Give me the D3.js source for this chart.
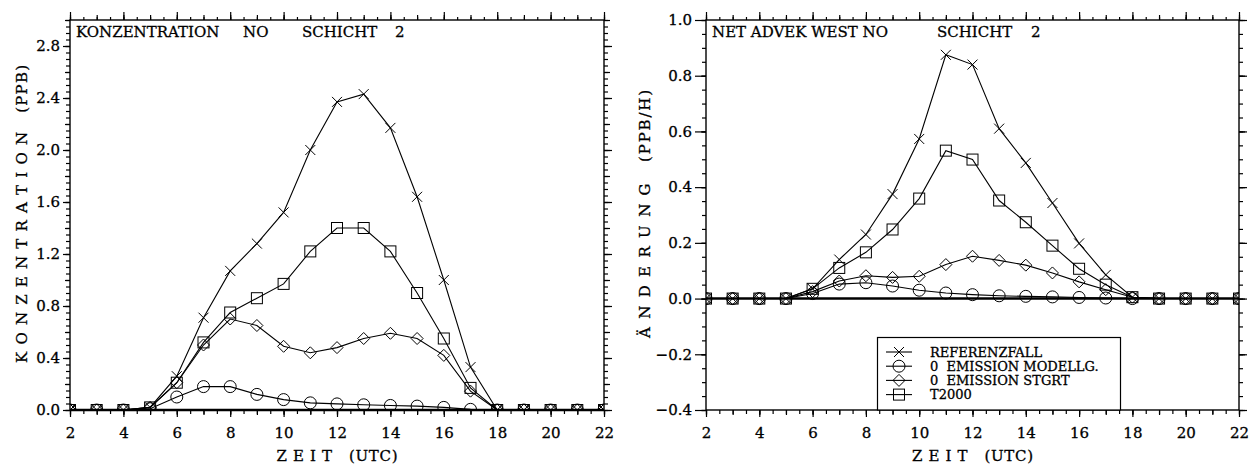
<!DOCTYPE html>
<html>
<head>
<meta charset="utf-8">
<script src="https://cdn.jsdelivr.net/npm/d3@7"></script>
<style>
  body { margin: 0; background: #fff; }
  text { font-family: "DejaVu Serif", "Liberation Serif", serif; fill: #000; stroke: #000; stroke-width: 0.3px; }
</style>
</head>
<body>
<div id="my_dataviz"></div>
<script>
// Hours (UTC) on the x axis
var hours = [2, 3, 4, 5, 6, 7, 8, 9, 10, 11, 12, 13, 14, 15, 16, 17, 18, 19, 20, 21, 22];
var xTickLabels = [2, 4, 6, 8, 10, 12, 14, 16, 18, 20, 22];

// Series names (legend)
var seriesNames = ["REFERENZFALL", "0  EMISSION MODELLG.", "0  EMISSION STGRT", "T2000"];
var seriesSymbols = ["cross", "circle", "diamond", "square"];

// Left panel: Konzentration NO (PPB)
var konzRef     = [0, 0, 0, 0.02, 0.26, 0.71, 1.07, 1.28, 1.52, 2.0, 2.37, 2.43, 2.17, 1.64, 1.0, 0.33, 0, 0, 0, 0, 0];
var konzEmisMod = [0, 0, 0, 0.01, 0.10, 0.18, 0.18, 0.12, 0.08, 0.055, 0.047, 0.04, 0.035, 0.03, 0.02, 0.005, 0, 0, 0, 0, 0];
var konzEmisStg = [0, 0, 0, 0.02, 0.21, 0.50, 0.70, 0.65, 0.49, 0.44, 0.48, 0.55, 0.59, 0.55, 0.42, 0.145, 0, 0, 0, 0, 0];
var konzT2000   = [0, 0, 0, 0.02, 0.21, 0.52, 0.75, 0.86, 0.97, 1.22, 1.40, 1.40, 1.22, 0.90, 0.55, 0.17, 0, 0, 0, 0, 0];
var konzTicks = [0.0, 0.4, 0.8, 1.2, 1.6, 2.0, 2.4, 2.8];

// Right panel: Net Advektion West NO (PPB/H)
var advRef     = [0, 0, 0, 0, 0.035, 0.14, 0.23, 0.375, 0.573, 0.875, 0.84, 0.61, 0.487, 0.343, 0.198, 0.085, 0.005, 0, 0, 0, 0];
var advEmisMod = [0, 0, 0, 0, 0.018, 0.052, 0.057, 0.045, 0.03, 0.02, 0.014, 0.01, 0.008, 0.006, 0.004, 0.002, 0, 0, 0, 0, 0];
var advEmisStg = [0, 0, 0, 0, 0.025, 0.063, 0.082, 0.076, 0.08, 0.122, 0.152, 0.137, 0.12, 0.092, 0.06, 0.032, 0.005, 0, 0, 0, 0];
var advT2000   = [0, 0, 0, 0, 0.035, 0.11, 0.166, 0.248, 0.359, 0.531, 0.499, 0.352, 0.274, 0.19, 0.107, 0.05, 0.005, 0, 0, 0, 0];
var advTicks = [-0.4, -0.2, 0.0, 0.2, 0.4, 0.6, 0.8, 1.0];

var svg = d3.select("#my_dataviz")
  .append("svg")
    .attr("width", 1250)
    .attr("height", 464);

// range helper for minor ticks (avoid float drift)
function steps(lo, hi, step) {
  var out = [];
  var n = Math.round((hi - lo) / step);
  for (var i = 0; i <= n; i++) out.push(+(lo + i * step).toFixed(4));
  return out;
}

// Draw one marker symbol at (0,0)
function drawSymbol(g, type) {
  if (type === "cross") {
    g.append("path").attr("d", "M-5,-5L5,5M-5,5L5,-5");
  } else if (type === "circle") {
    g.append("circle").attr("r", 6);
  } else if (type === "diamond") {
    g.append("path").attr("d", "M0,-6L6,0L0,6L-6,0Z");
  } else {
    g.append("rect").attr("x", -5.5).attr("y", -5.5).attr("width", 11).attr("height", 11);
  }
  g.selectAll("path,circle,rect")
    .attr("fill", "none")
    .attr("stroke", "#000")
    .attr("stroke-width", 1);
}

function drawPanel(cfg) {
  var x = d3.scaleLinear().domain([2, 22]).range([cfg.left, cfg.right]);
  var y = d3.scaleLinear().domain(cfg.yDomain).range([cfg.bottom, cfg.top]);
  var g = svg.append("g");

  // one level of ticks on one side
  function ticks(axisFn, values, size, translate, labels, pad) {
    var ax = axisFn.tickValues(values).tickSize(size).tickSizeOuter(0);
    if (labels) ax.tickFormat(labels).tickPadding(pad); else ax.tickFormat("");
    var a = g.append("g").attr("transform", translate).call(ax);
    a.select(".domain").remove();
    a.selectAll("line").attr("stroke", "#000").attr("stroke-width", 1.2);
    a.selectAll("text").style("font-size", "15px").style("font-family", "DejaVu Serif").attr("fill", "#000");
    return a;
  }

  var tb = "translate(0," + cfg.bottom + ")";
  var tt = "translate(0," + cfg.top + ")";
  var tl = "translate(" + cfg.left + ",0)";
  var tr = "translate(" + cfg.right + ",0)";

  // x axis, bottom and top
  ticks(d3.axisBottom(x), steps(2, 22, 0.5), 4, tb);
  ticks(d3.axisBottom(x), hours, 5, tb);
  ticks(d3.axisBottom(x), xTickLabels, 7, tb, d3.format("d"), 10);
  ticks(d3.axisTop(x), steps(2, 22, 0.5), 3, tt);
  ticks(d3.axisTop(x), hours, 5, tt);
  ticks(d3.axisTop(x), xTickLabels, 8, tt);

  // y axis, left and right
  var ylo = cfg.yDomain[0], yhi = cfg.yDomain[1];
  ticks(d3.axisLeft(y), steps(ylo, yhi, 0.05), 4, tl);
  ticks(d3.axisLeft(y), cfg.yMid, 5, tl);
  ticks(d3.axisLeft(y), cfg.yTicks, cfg.yMajorLen, tl, d3.format(".1f"), cfg.yPad);
  ticks(d3.axisRight(y), steps(ylo, yhi, 0.05), 4, tr);
  ticks(d3.axisRight(y), cfg.yMid, 6, tr);
  ticks(d3.axisRight(y), cfg.yTicks, 8, tr);

  // frame
  g.append("rect")
    .attr("x", cfg.left).attr("y", cfg.top)
    .attr("width", cfg.right - cfg.left).attr("height", cfg.bottom - cfg.top)
    .attr("fill", "none").attr("stroke", "#000").attr("stroke-width", 1.4);

  // zero line
  g.append("line")
    .attr("x1", cfg.left).attr("x2", cfg.right)
    .attr("y1", y(0)).attr("y2", y(0))
    .attr("stroke", "#000").attr("stroke-width", 2.4);

  // clip for data
  g.append("clipPath").attr("id", cfg.id + "-clip")
    .append("rect")
      .attr("x", cfg.left).attr("y", cfg.top)
      .attr("width", cfg.right - cfg.left).attr("height", cfg.bottom - cfg.top);

  var plot = g.append("g").attr("clip-path", "url(#" + cfg.id + "-clip)");
  var line = d3.line().x(function(d, i) { return x(hours[i]); }).y(function(d) { return y(d); });

  cfg.series.forEach(function(values, si) {
    plot.append("path")
      .datum(values)
      .attr("d", line)
      .attr("fill", "none")
      .attr("stroke", "#000")
      .attr("stroke-width", 1.1);
    plot.append("g").selectAll("g")
      .data(values)
      .join("g")
        .attr("transform", function(d, i) { return "translate(" + x(hours[i]) + "," + y(d) + ")"; })
        .each(function() { drawSymbol(d3.select(this), seriesSymbols[si]); });
  });

  // title pieces
  cfg.title.forEach(function(t) {
    g.append("text")
      .attr("x", t[1]).attr("y", cfg.top + 17)
      .style("font-size", "15px")
      .text(t[0]);
  });

  // axis labels
  g.append("text")
    .attr("transform", "translate(" + cfg.yLabelX + "," + cfg.yLabelY + ") rotate(-90)")
    .attr("text-anchor", "middle")
    .attr("textLength", cfg.yLabelLen)
    .attr("lengthAdjust", "spacing")
    .style("font-size", "15px")
    .style("white-space", "pre")
    .text(cfg.yLabel);

  g.append("text")
    .attr("x", (cfg.left + cfg.right) / 2)
    .attr("y", 461)
    .attr("text-anchor", "middle")
    .attr("textLength", 121)
    .attr("lengthAdjust", "spacing")
    .style("font-size", "15px")
    .style("white-space", "pre")
    .text("Z E I T   (UTC)");

  return {x: x, y: y, g: g};
}

drawPanel({
  id: "konz",
  left: 70, right: 604, top: 20, bottom: 410,
  yDomain: [0, 3.0],
  yTicks: konzTicks,
  yMid: steps(0, 3.0, 0.2),
  yMajorLen: 7, yPad: 3,
  series: [konzRef, konzEmisMod, konzEmisStg, konzT2000],
  title: [["KONZENTRATION", 76], ["NO", 243], ["SCHICHT", 302], ["2", 395]],
  yLabel: "K O N Z E N T R A T I O N   (PPB)",
  yLabelX: 27, yLabelY: 214, yLabelLen: 298
});

var right = drawPanel({
  id: "adv",
  left: 706, right: 1239, top: 20, bottom: 410,
  yDomain: [-0.4, 1.0],
  yTicks: advTicks,
  yMid: advTicks,
  yMajorLen: 11, yPad: 3,
  series: [advRef, advEmisMod, advEmisStg, advT2000],
  title: [["NET ADVEK WEST NO", 712], ["SCHICHT", 937], ["2", 1031]],
  yLabel: "Ä N D E R U N G   (PPB/H)",
  yLabelX: 650, yLabelY: 214, yLabelLen: 248
});

// Legend inside the right panel
var legend = right.g.append("g");
legend.append("rect")
  .attr("x", 877.5).attr("y", 337.5)
  .attr("width", 243).attr("height", 72.5)
  .attr("fill", "#fff").attr("stroke", "#000").attr("stroke-width", 1.2);

var rows = legend.selectAll(".legend")
  .data(seriesNames)
  .enter().append("g")
    .attr("class", "legend")
    .attr("transform", function(d, i) { return "translate(0," + (352 + i * 14.2) + ")"; });

rows.append("line")
  .attr("x1", 886).attr("x2", 912)
  .attr("stroke", "#000").attr("stroke-width", 1.1);

rows.append("g")
  .attr("transform", "translate(899,0)")
  .each(function(d, i) { drawSymbol(d3.select(this), seriesSymbols[i]); });

rows.append("text")
  .attr("x", 930)
  .attr("y", 0)
  .attr("dy", "0.36em")
  .style("font-size", "13px")
  .style("white-space", "pre")
  .text(function(d) { return d; });
</script>
</body>
</html>
